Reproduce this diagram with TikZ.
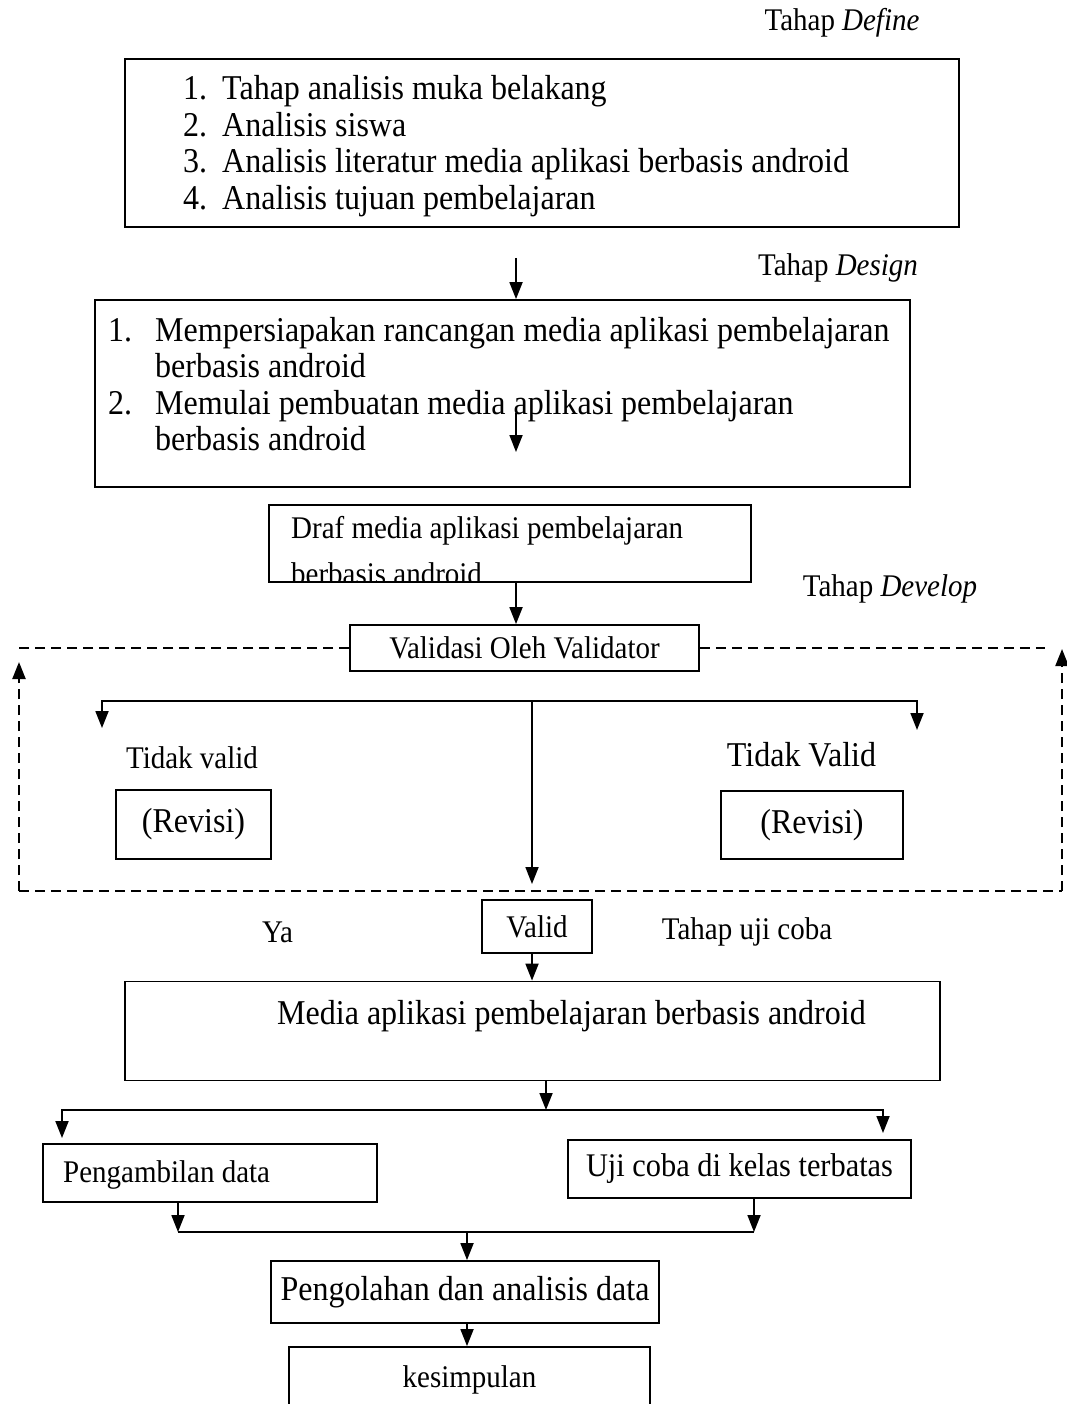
\documentclass[tikz,border=0pt]{standalone}
\usepackage{fontspec}
\setmainfont{Liberation Serif}[FakeStretch=0.92]
\usetikzlibrary{arrows.meta}
\newcommand{\fsbesar}{\fontsize{34.8}{36.5}\selectfont}
\newcommand{\fskecil}{\fontsize{31.5}{34}\selectfont}
\begin{document}
\begin{tikzpicture}[x=1pt, y=-1pt]
                \tikzstyle{box} = [draw, line width=1.8pt, inner sep=0pt, font=\fskecil]
                \tikzstyle{txt} = [inner sep=0pt, anchor=base, font=\fskecil]
                \tikzstyle{wire} = [line width=1.8pt]
                \tikzstyle{panah} = [-{Triangle[length=17pt, width=13pt]}]
                \tikzstyle{arr} = [wire, panah]
                \tikzstyle{balik} = [line width=2.2pt, dash pattern=on 10pt off 6pt]
                \useasboundingbox (0, 0) rectangle (1066, 1404);
                \node[txt] (tdefine) at (842, 31) {Tahap \textit{Define}};
                \node[box, minimum width=834pt, minimum height=168pt] (define) at (542, 143) {};
                \node[txt, anchor=base west, font=\fsbesar] (ldefine) at (183, 100) {\begin{tabular}[t]{@{}l@{\hspace{15pt}}l@{}}
                    1. & Tahap analisis muka belakang\\
                    2. & Analisis siswa\\
                    3. & Analisis literatur media aplikasi berbasis android\\
                    4. & Analisis tujuan pembelajaran
                \end{tabular}};
                \node[txt] (tdesign) at (838, 276) {Tahap \textit{Design}};
                \node[box, minimum width=815pt, minimum height=187pt] (design) at (502.5, 393.5) {};
                \node[txt, anchor=base west, font=\fsbesar] (ldesign) at (108, 341) {\begin{tabular}[t]{@{}l@{\hspace{23pt}}l@{}}
                    1. & Mempersiapakan rancangan media aplikasi pembelajaran\\
                       & berbasis android\\
                    2. & Memulai pembuatan media aplikasi pembelajaran\\
                       & berbasis android
                \end{tabular}};
                \coordinate (a1) at (516, 258);
                \coordinate (a2) at (516, 413);
                \draw[arr] (a1) -- (a1 |- design.north);
                \draw[arr] (a2) -- ++(0, 39);
                \node[box, minimum width=482pt, minimum height=77pt] (draft) at (510, 543.5) {};
                \begin{scope}
                    \clip (draft.south west) rectangle (draft.north east);
                    \node[txt, anchor=base west, font=\fontsize{31.5}{46}\selectfont] (ldraft) at (291, 538) {\begin{tabular}[t]{@{}l@{}}
                        Draf media aplikasi pembelajaran\\
                        berbasis android
                    \end{tabular}};
                \end{scope}
                \node[box] at (draft) [minimum width=482pt, minimum height=77pt] {};
                \node[txt] (tdevelop) at (890, 596) {Tahap \textit{Develop}};
                \node[box, minimum width=349pt, minimum height=46pt] (valbox) at (524.5, 648) {Validasi Oleh Validator};
                \draw[arr] (draft.south -| a1) -- (valbox.north -| a1);
                \coordinate (lb) at (19, 891);
                \coordinate (rb) at (1062, 891);
                \coordinate (rt) at (1045, 648);
                \draw[balik] (valbox.west) -- (valbox.west -| lb);
                \draw[balik] (valbox.east) -- (rt);
                \draw[balik] (lb) -- (rb);
                \draw[balik, panah] (lb) -- (19, 662);
                \draw[balik, panah] (rb) -- (1062, 649);
                \coordinate (sp1) at (532, 701);
                \coordinate (tl) at (102, 728);
                \coordinate (tr) at (917, 730);
                \coordinate (ya) at (532, 884);
                \draw[arr] (sp1) -| (tl);
                \draw[arr] (sp1) -| (tr);
                \draw[arr] (sp1) -- (ya);
                \node[txt] (ltv1) at (192, 768) {Tidak valid};
                \node[txt, font=\fsbesar] (ltv2) at (801.5, 766) {Tidak Valid};
                \node[box, font=\fsbesar, minimum width=155pt, minimum height=69pt] (revL) at (193.5, 824.5) {(Revisi)};
                \node[box, font=\fsbesar, minimum width=182pt, minimum height=68pt] (revR) at (812, 825) {(Revisi)};
                \node[txt] (lya) at (277.5, 942) {Ya};
                \node[box, minimum width=110pt, minimum height=53pt] (valid) at (537, 926.5) {Valid};
                \node[txt] (tuji) at (747, 939) {Tahap uji coba};
                \node[box, minimum width=815pt, minimum height=99pt] (media) at (532.5, 1031) {};
                \node[txt, anchor=base west, font=\fsbesar] (lmedia) at (277, 1024) {Media aplikasi pembelajaran berbasis android};
                \coordinate (cx) at (532, 0);
                \draw[arr] (valid.south -| cx) -- (media.north -| cx);
                \coordinate (sp2) at (546, 1110);
                \coordinate (bl) at (62, 1138);
                \coordinate (br) at (883, 1133);
                \draw[arr] (media.south -| sp2) -- (sp2);
                \draw[arr] (sp2) -| (bl);
                \draw[arr] (sp2) -| (br);
                \node[box, minimum width=334pt, minimum height=58pt] (ambil) at (210, 1173) {};
                \node[txt, anchor=base west] (lambil) at (63, 1182) {Pengambilan data};
                \node[box, font=\fontsize{33}{35}\selectfont, minimum width=343pt, minimum height=58pt] (uji) at (739.5, 1169) {Uji coba di kelas terbatas};
                \coordinate (jl) at (178, 1232);
                \coordinate (jr) at (754, 1232);
                \coordinate (jm) at (467, 1232);
                \draw[arr] (ambil.south -| jl) -- (jl);
                \draw[arr] (uji.south -| jr) -- (jr);
                \draw[wire] (jl) -- (jr);
                \node[box, font=\fsbesar, minimum width=388pt, minimum height=62pt] (olah) at (465, 1292) {Pengolahan dan analisis data};
                \draw[arr] (jm) -- (olah.north -| jm);
                \node[box, minimum width=361pt, minimum height=83pt] (simpul) at (469.5, 1388.5) {};
                \node[txt] (lsimpul) at (469.5, 1387) {kesimpulan};
                \draw[arr] (olah.south -| jm) -- (simpul.north -| jm);
            \end{tikzpicture}
\end{document}
